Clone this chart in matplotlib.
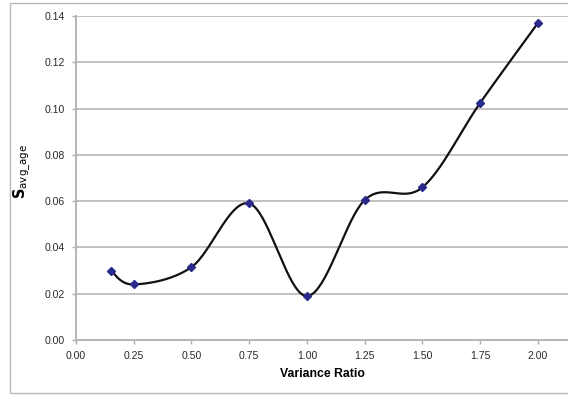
import numpy as np
import matplotlib
matplotlib.use("Agg")
import matplotlib.pyplot as plt
from matplotlib.patches import Rectangle

plt.rcParams['font.family'] = ['Liberation Sans', 'DejaVu Sans']

variance_ratio = [0.15, 0.25, 0.50, 0.75, 1.00, 1.25, 1.50, 1.75, 2.00]
s_avg_age = [0.030, 0.024, 0.0315, 0.059, 0.019, 0.0605, 0.066, 0.1025, 0.137]
x_ticks = [0.00, 0.25, 0.50, 0.75, 1.00, 1.25, 1.50, 1.75, 2.00]
y_ticks = [0.00, 0.02, 0.04, 0.06, 0.08, 0.10, 0.12, 0.14]


def smooth_curve(x, y, n=40):
    """Cardinal-spline style smoothing through every point (cubic Bezier segments)."""
    x = np.asarray(x, float)
    y = np.asarray(y, float)
    px = np.concatenate([[x[0]], x, [x[-1]]])
    py = np.concatenate([[y[0]], y, [y[-1]]])
    xs, ys = [], []
    t = np.linspace(0, 1, n)
    for i in range(1, len(px) - 2):
        p0 = np.array([px[i], py[i]])
        p3 = np.array([px[i + 1], py[i + 1]])
        c1 = p0 + (np.array([px[i + 1], py[i + 1]]) - np.array([px[i - 1], py[i - 1]])) / 6
        c2 = p3 - (np.array([px[i + 2], py[i + 2]]) - np.array([px[i], py[i]])) / 6
        b = ((1 - t) ** 3)[:, None] * p0 + (3 * (1 - t) ** 2 * t)[:, None] * c1 \
            + (3 * (1 - t) * t ** 2)[:, None] * c2 + (t ** 3)[:, None] * p3
        xs.append(b[:, 0])
        ys.append(b[:, 1])
    return np.concatenate(xs), np.concatenate(ys)


fig = plt.figure(figsize=(5.68, 3.95), dpi=100)
fig.patch.set_facecolor('white')
# outer chart-area frame
fig.patches.append(Rectangle((10 / 568, 2 / 395), 1.0, 1 - 5 / 395,
                             transform=fig.transFigure, fill=False,
                             edgecolor='#b8b8b8', linewidth=1.0))

ax = fig.add_axes([76 / 568, 1 - 340 / 395, (568 - 76) / 568, (340 - 16) / 395])
ax.set_facecolor('white')

for yv in y_ticks[1:]:
    ax.axhline(yv, color='#c4c0c0', linewidth=1.4, zorder=1)

sx, sy = smooth_curve(variance_ratio, s_avg_age)
ax.plot(sx, sy, color='#111111', linewidth=1.6, zorder=3)
ax.plot(variance_ratio, s_avg_age, linestyle='none', marker='D', markersize=4.2,
        color='#2a2a8a', zorder=4)

ax.set_xlim(0, 2.13)
ax.set_ylim(0, 0.14)
ax.set_xticks(x_ticks)
ax.set_yticks(y_ticks)
ax.set_xticklabels([f"{v:.2f}" for v in x_ticks])
ax.set_yticklabels([f"{v:.2f}" for v in y_ticks])
ax.tick_params(axis='both', labelsize=7.6, colors='#b0acac', length=3,
               width=1, direction='out')
ax.tick_params(axis='x', pad=5)
ax.tick_params(axis='y', pad=5)
for lbl in ax.get_xticklabels() + ax.get_yticklabels():
    lbl.set_color('#2a2a2a')

for side in ['top', 'right']:
    ax.spines[side].set_visible(False)
for side in ['left', 'bottom']:
    ax.spines[side].set_color('#b8b4b4')
    ax.spines[side].set_linewidth(1.4)

ax.set_xlabel('Variance Ratio', fontsize=8.8, fontweight='bold', labelpad=5)
ax.set_ylabel(r'$\mathbf{S}_{\mathrm{avg\_age}}$', fontsize=10.5)
ax.yaxis.set_label_coords(-0.088, 0.52)

fig.savefig('out.png', dpi=100, facecolor='white')
